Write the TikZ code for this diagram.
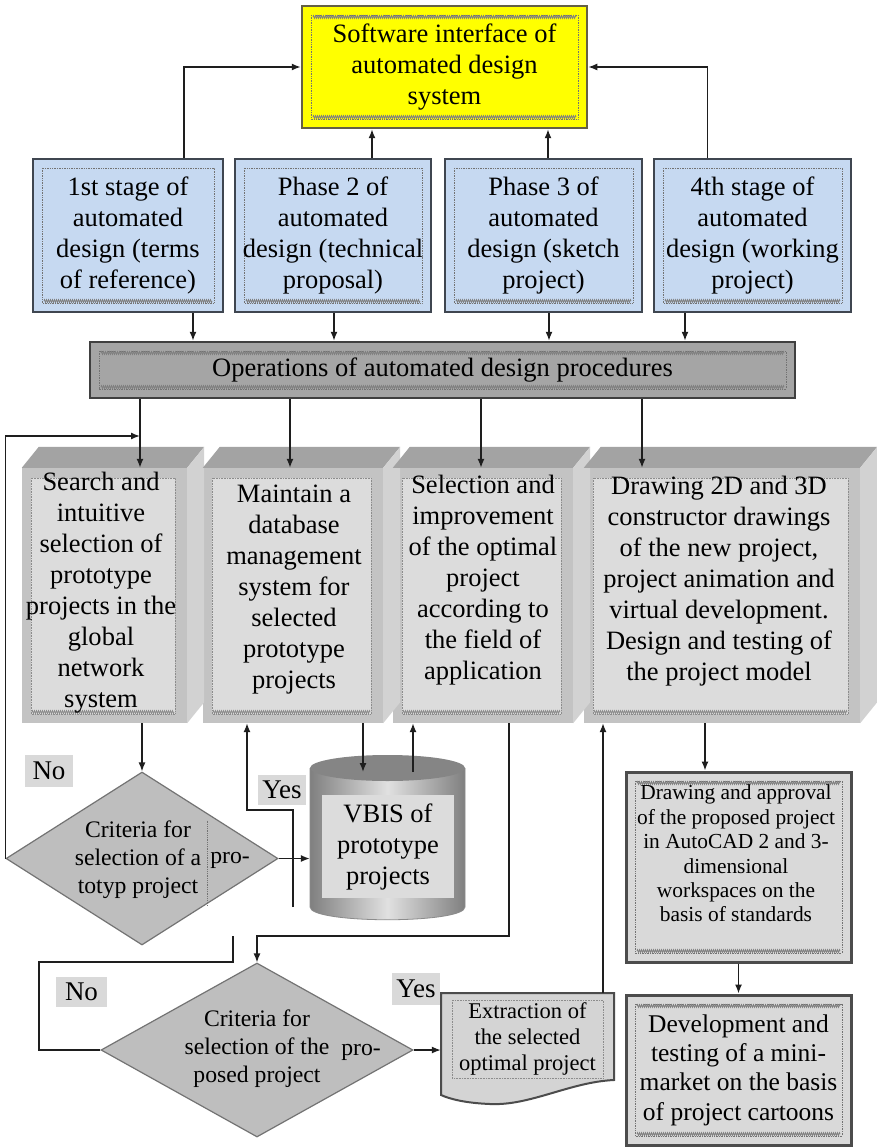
\documentclass[tikz,border=0pt]{standalone}
\usepackage{fontspec}
\setmainfont{Liberation Serif}
\usetikzlibrary{arrows.meta,shapes.geometric,calc,decorations.pathmorphing}
\newcommand\fntA{\fontsize{26.5pt}{31pt}\selectfont}
\newcommand\fntE{\fontsize{21.4pt}{24.4pt}\selectfont}
\newcommand\fntDoc{\fontsize{22.5pt}{26pt}\selectfont}
\newcommand\fntDia{\fontsize{23.7pt}{28pt}\selectfont}
\newcommand\fntF{\fontsize{25.5pt}{29.3pt}\selectfont}
\newcommand\fntL{\fontsize{27pt}{30pt}\selectfont}
\definecolor{stageblue}{HTML}{C6D9F1}
\definecolor{bordc}{HTML}{3F4650}
\definecolor{ylw}{HTML}{FFFF00}
\definecolor{opsgray}{HTML}{A5A5A5}
\definecolor{frontgray}{HTML}{C3C3C3}
\definecolor{innergray}{HTML}{DCDCDC}
\definecolor{topgray}{HTML}{A3A3A3}
\definecolor{sidegray}{HTML}{D2D2D2}
\definecolor{lblgray}{HTML}{D9D9D9}
\definecolor{dmdgray}{HTML}{BEBEBE}
\definecolor{boxgray}{HTML}{D9D9D9}
\definecolor{linec}{HTML}{1E1E1E}
\begin{document}
\begin{tikzpicture}[x=1pt,y=-1pt,
  deco/.style={path picture={
    \draw[black!55, densely dotted, line width=0.7pt] ($(path picture bounding box.north west)+(9,9)$) rectangle ($(path picture bounding box.south east)+(-9,-9)$);
    \draw[black!50, line width=0.8pt, decorate, decoration={zigzag, segment length=2pt, amplitude=1.3pt}] ($(path picture bounding box.south west)+(11,-11)$) -- ($(path picture bounding box.south east)+(-11,-11)$);
  }},
  decotop/.style={path picture={
    \draw[black!55, densely dotted, line width=0.7pt] ($(path picture bounding box.north west)+(9,9)$) rectangle ($(path picture bounding box.south east)+(-9,-9)$);
    \draw[black!50, line width=0.8pt, decorate, decoration={zigzag, segment length=2pt, amplitude=1.3pt}] ($(path picture bounding box.south west)+(11,-11)$) -- ($(path picture bounding box.south east)+(-11,-11)$);
    \draw[black!50, line width=0.8pt, decorate, decoration={zigzag, segment length=2pt, amplitude=1.3pt}] ($(path picture bounding box.north west)+(11,11)$) -- ($(path picture bounding box.north east)+(-11,11)$);
  }},
  stage/.style={draw=bordc, line width=2.5pt, fill=stageblue, minimum height=153pt, inner sep=0pt, align=center, font=\fntA, deco},
  ysw/.style={draw=black!70!yellow, line width=2.5pt, fill=ylw, inner sep=0pt, align=center, font=\fntA, decotop},
  opsst/.style={draw=black!75, line width=2.5pt, fill=opsgray, inner sep=0pt, align=center, font=\fntA, decotop},
  front/.style={fill=frontgray, inner sep=0pt, minimum height=255pt, path picture={
    \fill[innergray] ($(path picture bounding box.north west)+(9,10)$) rectangle ($(path picture bounding box.south east)+(-12,-9)$);
    \draw[black!45, densely dotted, line width=0.6pt] ($(path picture bounding box.north west)+(9,10)$) rectangle ($(path picture bounding box.south east)+(-12,-9)$);
    \draw[black!45, line width=0.8pt, decorate, decoration={zigzag, segment length=2pt, amplitude=1.3pt}] ($(path picture bounding box.south west)+(10,-11)$) -- ($(path picture bounding box.south east)+(-13,-11)$);
  }},
  rbox/.style={draw=black!70, line width=3pt, fill=boxgray, inner sep=0pt, minimum width=225pt, align=center, decotop},
  dmd/.style={diamond, draw=black!55, line width=1.2pt, fill=dmdgray, inner sep=0pt},
  lbl/.style={fill=lblgray, inner sep=0pt, font=\fntL},
  txt/.style={align=center, inner sep=0pt},
  ln/.style={line width=1.4pt, draw=linec},
  arr/.style={ln, -{Latex[length=9pt,width=7pt]}}
]
\useasboundingbox[fill=white] (0,0) rectangle (876,1147);

% ---------- top ----------
\node[ysw, minimum width=285pt, minimum height=122pt] (sw) at (444.5,67) {Software interface of\\automated design\\system};

\node[stage, minimum width=190pt] (s1) at (128,235.5) {1st stage of\\automated\\design (terms\\of reference)};
\node[stage, minimum width=196pt] (s2) at (333,235.5) {Phase 2 of\\automated\\design (technical\\proposal)};
\node[stage, minimum width=197pt] (s3) at (543.5,235.5) {Phase 3 of\\automated\\design (sketch\\project)};
\node[stage, minimum width=197pt] (s4) at (752.5,235.5) {4th stage of\\automated\\design (working\\project)};

\node[opsst, minimum width=705pt, minimum height=56pt] (ops) at (442.5,370) {Operations of automated design procedures};

% ---------- 3D boxes ----------
\node[front, minimum width=165pt] (p1) at (104.5,595.5) {};
\node[front, minimum width=180pt] (p2) at (293,595.5) {};
\node[front, minimum width=180pt] (p3) at (483,595.5) {};
\node[front, minimum width=276pt] (p4) at (722,595.5) {};
\foreach \p in {p1,p2,p3,p4}{
  \fill[topgray] (\p.north west) -- ++(17,-21) -- ($(\p.north east)+(17,-21)$) -- (\p.north east) -- cycle;
  \fill[sidegray] (\p.north east) -- ++(17,-21) -- ($(\p.south east)+(17,-21)$) -- (\p.south east) -- cycle;
}
\node[txt, font=\fntA] (t1) at (101,592.5) {Search and\\intuitive\\selection of\\prototype\\projects in the\\global\\network\\system};
\node[txt, font=\fntA] (t2) at (294,589.5) {Maintain a\\database\\management\\system for\\selected\\prototype\\projects};
\node[txt, font=\fntA] (t3) at (483,580.5) {Selection and\\improvement\\of the optimal\\project\\according to\\the field of\\application};
\node[txt, font=\fntA] (t4) at (719,581) {Drawing 2D and 3D\\constructor drawings\\of the new project,\\project animation and\\virtual development.\\Design and testing of\\the project model};

% ---------- cylinder ----------
\node[minimum width=155pt, minimum height=165pt, inner sep=0pt] (cyl) at (387.5,837.5) {};
\coordinate (cyltop) at (388,772);
\shade[left color=black!50, right color=black!50, middle color=black!12] (310,768) -- (310,907) .. controls (310,924) and (465,924) .. (465,907) -- (465,768) -- cycle;
\draw[black!45, line width=0.8pt] (310,768) -- (310,907) .. controls (310,924) and (465,924) .. (465,907) -- (465,768);
\fill[black!48] (387.5,768) ellipse [x radius=77.5, y radius=13];
\node[fill=innergray, minimum width=132pt, minimum height=103pt, inner sep=0pt, align=center, font=\fntA] (vbis) at (388,846.5) {VBIS of\\prototype\\projects};

% ---------- diamonds ----------
\node[dmd, minimum width=272pt, minimum height=173pt] (d1) at (142,858.5) {};
\node[txt, font=\fntDia] (d1t) at (138,860) {Criteria for\\selection of a\\totyp project};
\node[txt, font=\fntDia] (d1p) at (230,860) {pro-};
\draw[black!55, densely dotted, line width=0.8pt] ([xshift=65pt,yshift=38pt]d1.center) -- ([xshift=65pt,yshift=-47pt]d1.center);

\node[dmd, minimum width=312pt, minimum height=174pt] (d2) at (257,1050) {};
\node[txt, font=\fntDia] (d2t) at (257,1049) {Criteria for\\selection of the\\posed project};
\node[txt, font=\fntDia] (d2p) at (361,1052) {pro-};

% ---------- document ----------
\filldraw[fill=black!17, draw=black!70, line width=2pt] (441,993) -- (614,993) -- (614,1080) .. controls (570,1082) and (530,1106) .. (490,1104) .. controls (465,1103) and (450,1099) .. (441,1095) -- cycle;
\draw[black!45, densely dotted, line width=0.6pt] (452,1000) rectangle (603,1078);
\node[txt, font=\fntDoc, minimum width=173pt, minimum height=92pt] (doc) at (527.5,1039) {Extraction of\\the selected\\optimal project};

% ---------- right column ----------
\node[rbox, minimum height=190pt] (bE) at (738.5,867) {};
\node[txt, font=\fntE] (bEt) at (736,853.5) {Drawing and approval\\of the proposed project\\in AutoCAD 2 and 3-\\dimensional\\workspaces on the\\basis of standards};
\node[rbox, minimum height=150pt, font=\fntF] (bF) at (738.5,1070) {Development and\\testing of a mini-\\market on the basis\\of project cartoons};

% ---------- labels ----------
\node[lbl, minimum width=48pt, minimum height=32pt] (no1) at (49,771) {No};
\node[lbl, minimum width=48pt, minimum height=30pt] (yes1) at (282,790) {Yes};
\node[lbl, minimum width=51pt, minimum height=30pt] (no2) at (81.5,992) {No};
\node[lbl, minimum width=48pt, minimum height=32pt] (yes2) at (416,989) {Yes};

% ---------- connectors ----------
\draw[arr] ([xshift=56pt]s1.north) |- (sw.west);
\draw[arr] ([xshift=-45pt]s4.north) |- (sw.east);
\draw[arr] ([xshift=39pt]s2.north) -- ([xshift=39pt]s2.north |- sw.south);
\draw[arr] ([xshift=4.5pt]s3.north) -- ([xshift=4.5pt]s3.north |- sw.south);

\draw[arr] ([xshift=65pt]s1.south) -- ([xshift=65pt]s1.south |- ops.north);
\draw[arr] ([xshift=1pt]s2.south) -- ([xshift=1pt]s2.south |- ops.north);
\draw[arr] ([xshift=5.5pt]s3.south) -- ([xshift=5.5pt]s3.south |- ops.north);
\draw[arr] ([xshift=-67.5pt]s4.south) -- ([xshift=-67.5pt]s4.south |- ops.north);

\draw[arr] ([xshift=35.5pt]p1.north |- ops.south) -- ([xshift=35.5pt]p1.north);
\draw[arr] ([xshift=-3pt]p2.north |- ops.south) -- ([xshift=-3pt]p2.north);
\draw[arr] ([xshift=-2pt]p3.north |- ops.south) -- ([xshift=-2pt]p3.north);
\draw[arr] ([xshift=-80pt]p4.north |- ops.south) -- ([xshift=-80pt]p4.north);

\coordinate (fbk) at (140,436);
\draw[arr] (d1.west) -- (d1.west |- fbk) -- (fbk);
\draw[arr] (d1.north |- p1.south) -- (d1.north);
\draw[arr] (d1.east) -- (d1.east -| cyl.west);
\coordinate (yb) at (293,907);
\draw[arr] (yb) -- (293,810) -| ([xshift=-46pt]p2.south);
\draw[arr] ([xshift=70pt]p2.south) -- ([xshift=70pt]p2.south |- cyltop);
\draw[arr] ([xshift=-70pt]p3.south |- cyltop) -- ([xshift=-70pt]p3.south);

\coordinate (nl) at (39,962);
\coordinate (jn2) at (233,936);
\draw[arr] ([xshift=26pt]p3.south) |- (d2.north |- jn2) -- (d2.north);
\draw[ln] (d2.west) -| (nl) -| (jn2);
\draw[arr] (d2.east) -- (d2.east -| doc.west);
\draw[arr] ([xshift=75.5pt]doc.north) -- ([xshift=75.5pt]doc.north |- p4.south);
\draw[arr] ([xshift=-17pt]p4.south) -- ([xshift=-17pt]p4.south |- bE.north);
\draw[arr] (bE.south) -- (bF.north);
\end{tikzpicture}
\end{document}
